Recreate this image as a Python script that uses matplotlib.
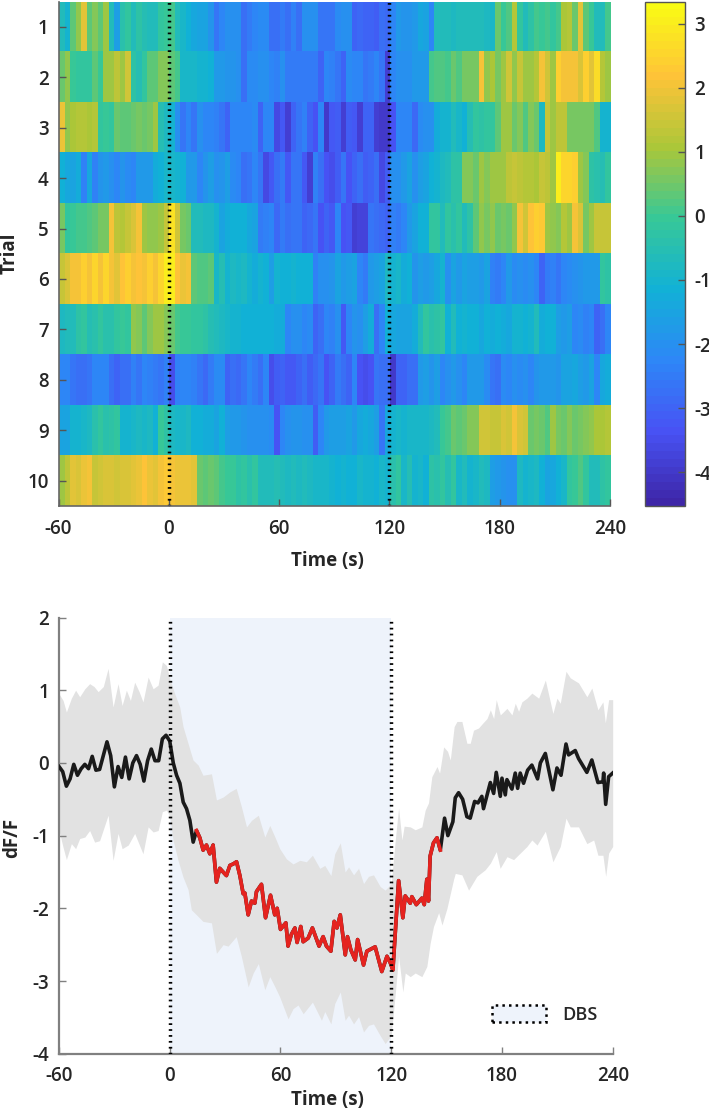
import numpy as np
import matplotlib
matplotlib.use('Agg')
import matplotlib.pyplot as plt
from matplotlib.colors import LinearSegmentedColormap
from matplotlib.patches import Patch

plt.rcParams['font.family'] = ['Open Sans', 'DejaVu Sans']
plt.rcParams['font.weight'] = 'semibold'
plt.rcParams['axes.labelweight'] = 'bold'
plt.rcParams['text.color'] = '#262626'
plt.rcParams['axes.labelcolor'] = '#262626'
plt.rcParams['axes.unicode_minus'] = False

# heatmap, one value per 3 s bin
trial1 = [-0.7,-1.0,0.3,0.8,1.8,0.3,0.7,0.3,0.9,-0.7,
          -1.6,-0.4,-0.1,-0.6,-0.3,-0.5,-0.6,-0.6,-0.1,0.0,
          0.05,-0.6,-0.9,-1.2,-1.4,-1.5,-1.5,-1.9,-2.6,-2.2,
          -2.0,-2.0,-2.0,-2.7,-2.5,-2.3,-2.1,-2.1,-2.8,-2.8,
          -2.5,-2.7,-2.4,-2.7,-2.0,-2.0,-2.0,-2.6,-2.6,-2.6,
          -2.1,-2.0,-2.0,-3.0,-2.9,-3.0,-3.0,-3.1,-2.7,-2.9,
          -2.2,-1.8,-1.9,-1.9,-1.8,-1.4,-1.5,-2.3,-0.7,-0.7,
          -0.7,-0.8,-0.6,-0.7,-0.7,-0.7,-0.7,-0.8,-0.9,0.4,
          0.0,0.2,1.2,-0.2,-0.6,-0.3,0.1,0.0,0.1,-0.1,
          0.1,1.1,1.2,0.4,1.8,0.3,0.0,-0.6,-0.7,0.1]
trial2 = [0.4,0.8,0.0,-0.1,-0.1,-0.2,0.3,0.0,0.9,1.0,
          1.3,1.0,1.6,-0.3,-0.5,-0.1,0.3,0.3,0.7,0.7,
          0.3,0.1,-0.9,-0.9,-0.9,-1.0,-1.0,-1.2,-1.8,-1.8,
          -1.9,-1.9,-2.0,-2.8,-2.1,-2.1,-2.0,-2.0,-2.3,-2.4,
          -2.0,-2.5,-2.5,-2.5,-2.5,-2.5,-2.5,-3.0,-2.2,-2.4,
          -2.6,-3.0,-2.1,-2.2,-2.2,-2.6,-2.5,-2.3,-2.6,-3.8,
          -2.2,-2.0,-2.0,-2.0,-1.7,-1.7,-1.8,0.1,0.2,0.2,
          0.1,0.4,0.2,0.6,0.6,0.6,2.0,0.8,1.1,0.6,
          1.0,1.6,0.8,1.5,1.0,1.0,1.2,2.0,1.6,0.9,
          2.4,2.1,2.1,2.0,1.7,2.4,1.8,2.7,1.2,1.0]
trial3 = [1.9,0.8,1.1,1.2,1.2,1.1,1.2,-0.2,0.0,-0.2,
          0.5,0.3,0.3,0.5,0.6,0.4,0.6,1.0,-0.5,-0.8,
          -1.0,-2.0,-2.6,-2.3,-2.6,-2.0,-2.2,-2.2,-2.4,-2.6,
          -3.0,-2.2,-2.2,-2.3,-2.2,-2.1,-3.0,-2.3,-2.3,-3.6,
          -3.2,-3.8,-3.0,-2.6,-2.4,-3.0,-3.4,-2.3,-4.0,-3.2,
          -3.1,-3.9,-3.1,-3.2,-3.9,-3.0,-3.0,-3.8,-4.0,-4.0,
          -3.3,-2.3,-2.3,-2.3,-2.9,-2.1,-2.0,-2.0,-1.3,-1.0,
          -1.0,-0.6,-0.9,-1.2,-0.5,-0.2,-0.3,-0.2,-0.1,0.3,
          1.0,1.0,0.4,0.7,0.2,0.7,0.4,-0.8,1.4,0.9,
          1.3,1.3,0.6,0.6,0.6,0.6,0.6,0.2,-1.0,-1.0]
trial4 = [-1.2,-1.4,-1.5,-1.3,-2.4,-1.4,-2.4,-1.9,-1.8,-2.0,
          -2.3,-1.9,-2.1,-2.2,-1.8,-1.7,-1.8,-1.3,-1.1,-0.9,
          -0.9,-1.0,-1.2,-1.7,-1.8,-2.3,-1.9,-1.6,-2.0,-1.9,
          -1.6,-2.1,-2.2,-2.7,-2.6,-2.3,-2.6,-3.6,-3.2,-2.7,
          -2.5,-3.2,-2.6,-2.6,-3.2,-3.8,-2.4,-2.7,-3.4,-3.5,
          -3.1,-2.6,-3.3,-3.0,-2.7,-3.1,-3.0,-2.7,-3.6,-3.1,
          -2.0,-2.0,-1.7,-1.5,-2.0,-1.6,-1.5,-1.2,-1.0,-0.8,
          -0.6,-0.3,-0.3,0.7,0.7,0.5,0.9,0.7,0.9,1.0,
          0.9,1.3,1.5,1.3,1.2,1.2,1.1,1.5,1.3,1.0,
          3.0,2.6,2.5,2.4,1.0,0.7,-0.3,-0.4,-0.5,-0.2]
trial5 = [0.6,-0.1,0.0,0.1,0.1,0.2,0.3,0.6,0.6,2.0,
          1.3,1.2,1.4,1.7,2.1,1.0,0.8,0.8,0.9,1.5,
          2.8,1.6,0.6,0.4,-0.7,-0.7,-0.8,-0.8,-1.0,-1.5,
          -1.3,-1.2,-1.2,-1.2,-1.4,-1.5,-2.5,-2.4,-2.2,-2.9,
          -2.5,-2.7,-2.6,-2.6,-3.0,-2.9,-2.6,-3.4,-3.0,-3.2,
          -2.2,-3.4,-3.2,-3.8,-3.7,-3.7,-2.6,-2.8,-2.9,-3.0,
          -2.4,-2.5,-2.3,-1.7,-1.5,-1.2,-1.1,-0.2,-0.1,-0.6,
          -0.2,-0.4,-0.1,-0.6,-0.3,0.3,0.8,0.6,0.8,0.4,
          0.6,0.4,0.8,2.0,1.6,2.2,2.4,2.3,1.0,0.8,
          0.7,1.2,1.0,2.0,1.7,0.6,0.9,1.4,1.4,1.5]
trial6 = [1.5,1.7,2.0,2.1,2.4,2.1,2.6,2.0,2.5,2.1,
          1.8,2.2,2.4,2.0,2.2,2.1,2.4,2.0,2.6,3.1,
          3.1,2.2,1.9,2.1,0.3,0.2,0.2,0.3,-0.9,-0.5,
          -1.0,-0.8,-0.9,-0.8,-1.0,-1.3,-1.0,-1.2,-1.6,-1.0,
          -1.2,-1.1,-1.0,-1.2,-1.2,-1.1,-2.4,-2.0,-2.0,-1.9,
          -1.5,-1.7,-1.6,-1.5,-2.3,-2.5,-1.8,-1.6,-1.5,-0.8,
          -1.0,-0.9,-1.3,-1.2,-1.9,-1.6,-1.8,-1.6,-1.4,-1.0,
          -2.0,-1.5,-1.8,-1.5,-1.6,-1.6,-1.7,-1.5,-2.4,-2.5,
          -2.3,-1.8,-2.1,-2.0,-2.1,-2.0,-2.2,-3.0,-2.5,-2.4,
          -2.6,-2.3,-2.1,-2.0,-1.9,-1.8,-1.8,-1.7,-0.2,-0.3]
trial7 = [-0.8,-0.7,-0.7,-0.3,-0.2,-0.5,-0.4,-0.2,-0.4,-0.4,
          -0.1,0.0,-0.1,0.8,0.7,0.3,0.7,0.9,0.9,0.7,
          0.5,0.1,0.0,0.0,-0.1,-0.1,-0.3,-0.5,-0.6,-0.8,
          -0.9,-1.0,-1.0,-1.1,-1.1,-1.2,-1.1,-1.1,-1.2,-1.3,
          -1.3,-2.3,-2.0,-2.0,-2.3,-2.1,-3.0,-2.8,-2.2,-2.4,
          -2.0,-3.2,-2.3,-1.9,-2.0,-1.6,-1.3,-2.8,-2.2,-1.2,
          -1.4,-1.5,-1.5,-1.5,-1.3,-0.6,-0.2,-0.4,-0.3,-0.2,
          -1.1,-0.7,-1.2,-1.0,-1.1,-1.1,-1.4,-1.2,-1.3,-1.2,
          -1.3,-1.4,-1.0,-1.0,-1.2,-1.0,-0.7,-1.3,-1.2,-1.1,
          -1.6,-1.7,-1.6,-2.3,-2.1,-2.4,-2.2,-3.0,-2.8,-2.3]
trial8 = [-2.2,-2.2,-2.6,-2.7,-2.8,-2.6,-2.3,-2.3,-2.2,-2.7,
          -3.0,-2.8,-2.7,-2.4,-2.6,-2.3,-2.4,-2.5,-2.6,-2.4,
          -3.5,-2.4,-2.2,-2.3,-2.4,-2.6,-2.9,-2.5,-2.1,-2.1,
          -3.0,-2.8,-2.9,-2.6,-2.3,-2.5,-2.7,-2.3,-3.5,-3.1,
          -3.0,-3.2,-3.2,-3.0,-2.7,-3.1,-2.9,-2.6,-3.4,-3.0,
          -2.5,-2.7,-3.0,-2.2,-3.4,-3.5,-3.4,-2.6,-2.7,-2.8,
          -4.0,-3.0,-3.0,-2.8,-2.7,-1.8,-1.6,-1.9,-1.6,-2.2,
          -2.0,-1.7,-2.0,-2.2,-1.8,-1.7,-1.7,-2.1,-2.6,-2.8,
          -2.1,-2.3,-2.0,-2.1,-2.0,-2.2,-1.9,-1.7,-1.8,-1.8,
          -1.9,-1.5,-1.5,-1.4,-1.6,-1.7,-1.5,-2.3,-1.4,-1.3]
trial9 = [-1.5,-1.5,-1.0,-1.0,-0.9,-0.8,-0.4,-0.2,-0.4,-0.3,
          -0.2,-1.0,-1.0,-0.9,-0.8,-0.9,-0.8,-1.1,0.0,-0.3,
          -0.8,-0.9,-0.9,-0.8,-1.2,-1.1,-1.3,-1.3,-1.5,-1.2,
          -1.6,-1.7,-1.8,-1.9,-2.0,-2.0,-2.0,-2.0,-2.1,-3.3,
          -2.3,-2.0,-1.9,-1.9,-2.0,-2.0,-3.1,-2.3,-1.7,-1.6,
          -1.6,-1.6,-1.5,-1.7,-1.4,-1.3,-1.4,-1.6,-2.6,-1.4,
          -1.0,-0.9,-1.0,-0.9,-0.9,-0.9,-0.9,-0.8,-0.7,0.0,
          0.1,0.5,0.3,0.4,0.7,0.7,1.6,1.6,1.5,1.5,
          1.7,1.6,2.0,1.7,1.6,0.5,0.6,0.4,0.2,1.0,
          0.6,0.4,0.7,0.4,0.6,0.7,0.8,1.1,1.1,1.2]
trial10 = [1.0,1.3,1.8,1.7,1.9,2.1,1.4,1.6,1.7,1.7,
           1.6,1.7,1.7,1.8,1.9,2.2,1.9,1.8,2.0,2.3,
           2.1,1.9,1.9,1.9,1.8,0.5,0.3,0.5,0.3,0.1,
           0.0,0.0,-0.3,-0.1,-0.4,-0.2,-0.6,-0.7,-0.6,-0.5,
           -0.7,-0.8,-0.7,-0.8,-0.7,-0.8,-0.9,-0.9,-0.9,-1.0,
           -1.2,-1.0,-1.1,-1.2,-0.9,-1.0,-1.0,-1.1,-0.9,-1.0,
           -0.4,-0.2,-0.9,-0.5,-1.0,-0.9,-1.1,-0.3,-0.4,-0.1,
           -0.5,-0.1,-0.9,-0.6,-1.0,-0.9,-0.6,-0.8,-1.6,-1.8,
           -1.9,-2.0,-2.0,-0.8,-1.0,-0.9,-0.8,-1.2,-1.5,-1.4,
           -1.2,-0.9,-0.2,0.0,0.2,-0.2,-0.6,-0.6,-0.3,-0.2]

# mean trace
mean_t = [-60,-58,-56,-54,-52,-50,-48,-46,-44,-42,-40,-38,-36,-34,-32,-30,-28,-26,-24,-22,
          -20,-18,-16,-14,-12,-10,-8,-6,-4,-2,0,1.9,3.7,5.5,7.3,9.1,10.9,12.7,14.5,16.3,
          18.1,19.9,21.7,23.5,25.3,27.1,28.9,30.7,32.6,34.4,36.2,38,39.8,40.7,42.5,44.3,46.1,47,49.7,51.9,
          54.6,56.9,58.2,60,62.9,64.1,65.9,67.8,69,71,72.3,75,77.3,80.9,83.1,84.9,87.3,89.1,90.6,92.4,
          95.1,96.3,98.1,100.5,101.8,105,106.8,111.3,114.9,117.7,119.5,120.9,124,126.3,127.6,130.3,131.2,133.6,136.6,137.9,
          139.3,140.2,141.1,142.9,144.8,146.6,148.9,150.7,153.4,154.7,156.5,158.7,161,162.8,165.2,167,169.1,170,173.7,175.5,
          176.9,179.1,180,181.8,182.7,185.4,187.2,188.5,189.9,191.7,193.9,196.2,199.3,200.8,203.5,207.6,209.8,212,214.7,216.1,
          219.7,221.5,226,228.7,232,234.7,235.1,236.2,237.8,240]
mean_v = [-0.05,-0.12,-0.32,-0.22,-0.02,-0.17,-0.08,-0.02,-0.08,0.09,-0.1,-0.09,0.1,0.29,0.1,-0.33,-0.05,-0.2,0.08,-0.22,
          0.0,0.1,-0.02,-0.25,0.03,0.19,0.03,0.03,0.33,0.38,0.3,0.0,-0.17,-0.28,-0.54,-0.63,-0.79,-1.09,-0.93,-1.03,
          -1.2,-1.13,-1.25,-1.13,-1.64,-1.45,-1.5,-1.55,-1.41,-1.39,-1.36,-1.55,-1.8,-1.79,-2.09,-1.9,-1.93,-1.77,-1.67,-2.13,
          -1.82,-2.09,-2.0,-2.29,-2.2,-2.52,-2.36,-2.27,-2.47,-2.25,-2.46,-2.41,-2.27,-2.52,-2.39,-2.52,-2.59,-2.18,-2.27,-2.09,
          -2.64,-2.39,-2.57,-2.71,-2.43,-2.78,-2.59,-2.53,-2.87,-2.66,-2.75,-2.85,-1.62,-2.13,-1.83,-1.93,-1.84,-1.95,-1.86,-1.95,
          -1.6,-1.9,-1.28,-1.1,-1.03,-1.2,-0.76,-1.0,-0.81,-0.48,-0.41,-0.5,-0.74,-0.76,-0.53,-0.55,-0.46,-0.63,-0.27,-0.42,
          -0.13,-0.46,-0.21,-0.44,-0.23,-0.36,-0.14,-0.35,-0.14,-0.28,-0.1,-0.03,-0.22,0.0,0.13,-0.37,-0.07,-0.17,0.26,0.11,
          0.17,0.06,-0.13,0.04,-0.27,-0.26,-0.14,-0.57,-0.19,-0.14]

# grey band
upper_t = [-60,-57.8,-56,-53.3,-51,-48.8,-46,-43.4,-41,-38.8,-36,-33.4,-30.7,-28,-25.8,-23.5,-21.3,-19,-16.6,-14.5,
           -11.7,-9,-6.3,-4,-1.8,0,2.7,5.4,7.2,9.9,12.6,15.4,18,22.6,25.3,28.9,32.5,36,38.8,41.6,
           44.3,48,51.5,54.2,57,59.6,63.2,66.8,70.5,74,77.3,81.3,84,87.3,89.4,92.4,95,96.9,99.6,102.3,
           105,107.7,110.4,114,116.7,120,122.2,124,125.8,127,130.3,133,136.6,138.4,140.2,142,144.8,146.2,148.4,150.5,
           152,154.1,155.6,158.3,161,162.8,164.6,167.3,169.7,171.9,173.7,175.5,176.9,179.1,182.7,185.4,187.2,189,190.8,193.5,
           196.2,199.9,203.5,207.6,209.8,211.6,214.7,217,221.5,226,228.7,232,234.7,236,237.8,240]
upper_v = [0.95,0.86,0.7,0.89,1.0,0.91,1.02,1.09,1.05,0.98,1.05,1.3,0.77,1.09,0.79,1.0,0.86,1.11,0.98,0.84,
           1.18,1.02,1.07,1.39,1.34,1.16,0.95,0.77,0.5,0.27,0.04,-0.03,-0.17,-0.15,-0.51,-0.47,-0.4,-0.35,-0.6,-0.88,
           -0.79,-0.72,-1.02,-0.86,-1.02,-1.18,-1.32,-1.39,-1.34,-1.36,-1.27,-1.45,-1.41,-1.55,-1.25,-1.1,-1.5,-1.43,-1.54,-1.45,
           -1.66,-1.56,-1.54,-1.7,-1.75,-1.66,-1.06,-0.62,-1.06,-0.87,-0.88,-0.92,-0.88,-0.65,-0.55,-0.19,-0.05,-0.14,0.22,0.16,
           0.04,0.5,0.57,0.57,0.27,0.27,0.45,0.48,0.55,0.61,0.73,0.61,0.87,0.66,0.75,0.66,0.82,0.71,0.84,0.89,
           0.96,0.89,1.14,0.68,0.89,0.82,1.26,1.17,1.1,0.91,1.03,0.73,0.84,0.55,0.87,0.87]
lower_t = [-60,-57.8,-56,-53.3,-51,-48.8,-46,-43.4,-40.7,-38,-33.4,-30.7,-28,-25.8,-22.5,-19,-14.5,-11.7,-9,-6.3,
           -4,-1.8,0,1.8,4.5,7.2,9.9,11.7,14.5,18,22.6,25.3,28.9,31.6,36,38.8,42.5,45.2,48,51.5,
           54.2,57,59.6,64.1,66.8,69.5,72.3,77.3,82.2,84,87.3,89.4,92.4,95,96.9,99.6,102.3,105,107.7,110.4,
           114,116.7,120,122.2,124,126.3,127.6,130.3,133,136.6,139.3,141.1,142.9,145.7,147.5,150.2,153.8,154.7,158.3,161.9,
           166.4,170.9,173.7,176.9,179,182.7,186.3,189.9,193.5,196.2,199,203.5,207.6,211.6,214.7,217,221.5,226,229.7,232,
           234.7,236.2,237.8,240]
lower_v = [-0.93,-1.16,-1.33,-1.11,-1.18,-1.04,-1.02,-0.93,-1.09,-1.07,-0.72,-1.34,-0.97,-1.18,-1.13,-0.97,-1.25,-0.88,-0.95,-0.93,
           -0.67,-0.65,-0.74,-1.06,-1.34,-1.57,-1.74,-2.02,-2.09,-2.18,-2.2,-2.62,-2.5,-2.52,-2.39,-2.66,-3.08,-2.89,-2.76,-3.12,
           -2.94,-3.08,-3.22,-3.52,-3.38,-3.33,-3.45,-3.29,-3.54,-3.42,-3.59,-3.31,-3.15,-3.54,-3.47,-3.59,-3.49,-3.7,-3.61,-3.59,
           -3.75,-3.86,-3.75,-3.17,-2.66,-3.15,-2.89,-2.94,-2.89,-2.94,-2.8,-2.48,-2.25,-2.06,-2.23,-2.0,-1.6,-1.52,-1.54,-1.75,
           -1.56,-1.47,-1.38,-1.22,-1.45,-1.29,-1.33,-1.24,-1.15,-1.06,-1.13,-0.94,-1.36,-1.15,-0.76,-0.88,-0.88,-1.11,-1.06,-1.27,
           -1.27,-1.56,-1.24,-1.15]

trial_labels = [str(i) for i in range(1, 11)]
time_ticks = [-60, 0, 60, 120, 180, 240]
dff_ticks = [2, 1, 0, -1, -2, -3, -4]
cbar_ticks = [-4, -3, -2, -1, 0, 1, 2, 3]

# approx of matlab's parula
parula = LinearSegmentedColormap.from_list('parula', [
    (0.2422, 0.1504, 0.6603), (0.2810, 0.3228, 0.9579), (0.1786, 0.5289, 0.9682),
    (0.0689, 0.6948, 0.8394), (0.2161, 0.7843, 0.5923), (0.6720, 0.7793, 0.2227),
    (0.9970, 0.7659, 0.2199), (0.9769, 0.9839, 0.0805)], N=64)

W, H = 709, 1110
fig = plt.figure(figsize=(W/100, H/100), dpi=100)


def box(l, t, r, b):
    return [l/W, 1 - b/H, (r - l)/W, (b - t)/H]


dots = (0, (0.5, 1.2))
grey = '#808080'

# top panel
ax = fig.add_axes(box(58.5, 1.5, 610, 506))
rows = np.array([trial1, trial2, trial3, trial4, trial5, trial6, trial7, trial8, trial9, trial10])
im = ax.imshow(rows, cmap=parula, vmin=-4.53, vmax=3.35, aspect='auto',
               extent=[-60, 240, 10.5, 0.5], interpolation='nearest')
for x in (0, 120):
    ax.axvline(x, color='k', lw=2.5, ls=dots)
ax.set_xticks(time_ticks)
ax.set_yticks(range(1, 11))
ax.set_yticklabels(trial_labels)
ax.tick_params(direction='in', length=5, width=1, color='#555555', labelsize=13.5, labelcolor='#262626', pad=7)
ax.tick_params(axis='x', pad=9)
for s in ('top', 'right'):
    ax.spines[s].set_visible(False)
for s in ('left', 'bottom'):
    ax.spines[s].set_color('#666666')
    ax.spines[s].set_linewidth(1.2)
ax.set_xlabel('Time (s)', fontsize=13.5)
ax.set_ylabel('Trial', fontsize=13.5)
ax.xaxis.set_label_coords(0.487, -0.089)
ax.yaxis.set_label_coords(-0.07, 0.5)

# colour bar
cax = fig.add_axes(box(645, 1.5, 684.5, 506))
cb = fig.colorbar(im, cax=cax, ticks=cbar_ticks)
cb.ax.tick_params(direction='in', length=5, width=1, color='#555555', labelsize=13.5, labelcolor='#262626', pad=7)
cb.outline.set_edgecolor('#555555')
cb.outline.set_linewidth(1)

# bottom panel
ax2 = fig.add_axes(box(59, 617.5, 612.7, 1053.7))
ax2.axvspan(0, 120, color='#eef3fb', lw=0, zorder=0)
band_t = np.union1d(upper_t, lower_t)
ax2.fill_between(band_t, np.interp(band_t, lower_t, lower_v), np.interp(band_t, upper_t, upper_v),
                 color='#e2e2e2', lw=0, zorder=1)
mean_t = np.array(mean_t)
mean_v = np.array(mean_v)
stim = (mean_t >= 14.5) & (mean_t <= 146.6)
ax2.plot(mean_t, mean_v, color='#1a1a1a', lw=2.6, zorder=3)
ax2.plot(mean_t[stim], mean_v[stim], color='#e5231f', lw=2.6, zorder=4)
for x in (0, 120):
    ax2.axvline(x, color='k', lw=2.5, ls=dots, zorder=5)
ax2.set_xlim(-60, 240)
ax2.set_ylim(-4, 2)
ax2.set_xticks(time_ticks)
ax2.set_yticks(dff_ticks)
ax2.tick_params(direction='in', length=5, width=1, color=grey, labelsize=13.5, labelcolor='#262626', pad=7)
ax2.tick_params(axis='x', pad=9)
for s in ('top', 'right'):
    ax2.spines[s].set_visible(False)
for s in ('left', 'bottom'):
    ax2.spines[s].set_color(grey)
    ax2.spines[s].set_linewidth(1.6)
ax2.set_xlabel('Time (s)', fontsize=13.5)
ax2.set_ylabel('dF/F', fontsize=13.5)
ax2.xaxis.set_label_coords(0.484, -0.0835)
ax2.yaxis.set_label_coords(-0.067, 0.495)
ax2.legend(handles=[Patch(facecolor='#eef3fb', edgecolor='k', linestyle=':', linewidth=1.8, label='DBS')],
           frameon=False, loc='center left', bbox_to_anchor=(0.766, 0.09), fontsize=13,
           handlelength=3.0, handleheight=1.1, handletextpad=0.9, borderpad=0, labelcolor='#262626')

fig.savefig('out.png', dpi=100)
